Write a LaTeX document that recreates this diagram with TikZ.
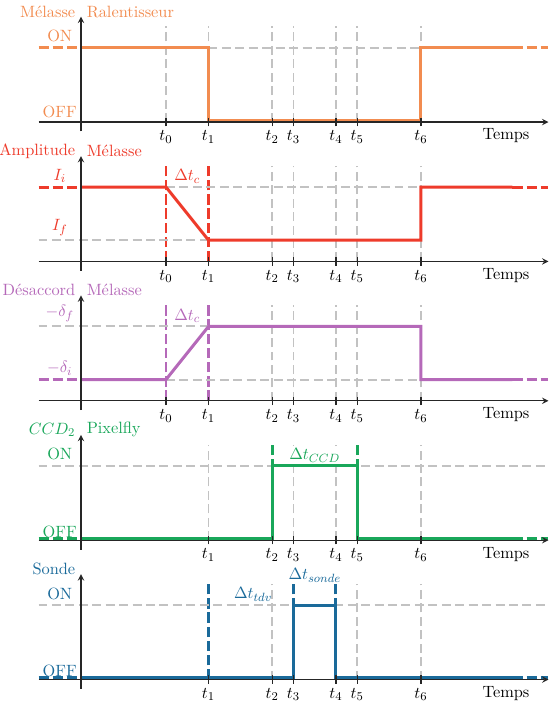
\documentclass[tikz,border=0pt,11pt]{standalone}
\usetikzlibrary{arrows.meta, positioning, calc}
\definecolor{naranja}{HTML}{F28C50}
\definecolor{rojo}{HTML}{EE3B2B}
\definecolor{violeta}{HTML}{B569B9}
\definecolor{verde}{HTML}{19A75A}
\definecolor{azul}{HTML}{1A6A9A}
\definecolor{gris}{HTML}{C2C2C2}

\begin{document}
\begin{tikzpicture}[
    eje/.style={->, >=stealth, line width=0.9pt, black!85},
    tic/.style={line width=0.9pt, black!85},
    guia/.style={gris, line width=1.3pt, dash pattern=on 6pt off 3pt},
    senal/.style={line width=2pt},
    punteado/.style={line width=2pt, dash pattern=on 7pt off 2.5pt}
  ]
  \useasboundingbox (-1.906,2.871) rectangle (11.106,-13.718);

  % Melasse Ralentisseur
  \begin{scope}[naranja]
    \foreach \x in {2,3,4.5,5,6,6.5,8}
      \draw[guia] (\x,0) -- (\x,2.25);
    \draw[guia] (3,1.75) -- (8,1.75);
    \draw[senal] (0,1.75) -- (3,1.75) -- (3,0.04) -- (8,0.04) -- (8,1.75) -- (10.15,1.75);
    \draw[punteado] (-1,1.75) -- (0,1.75);
    \draw[punteado] (10.15,1.75) -- (11,1.75);
    \node[left] (tit1) at (0,2.6) {Mélasse};
    \node[right] (tit1b) at (0,2.6) {Ralentisseur};
    \node[above] (on1) at (-0.5,1.75) {ON};
    \node[above] (off1) at (-0.5,-0.03) {OFF};
    \draw[eje] (-1,0) -- (11,0);
    \draw[eje] (0,-0.22) -- (0,2.48);
    \foreach \x/\n in {2/0,3/1,4.5/2,5/3,6/4,6.5/5,8/6} {
      \draw[tic] (\x,-0.1) -- (\x,0.1);
      \node[below, black] (a\n) at (\x,-0.07) {$t_{\n}$};
    }
    \node[black] (temps1) at (10,-0.33) {Temps};
  \end{scope}

  % Amplitude Melasse
  \begin{scope}[yshift=-3.28cm, rojo]
    \foreach \x in {4.5,5,6,6.5,8}
      \draw[guia] (\x,0) -- (\x,2.25);
    \foreach \x in {2,3}
      \draw[punteado] (\x,0) -- (\x,2.25);
    \draw[guia] (2,1.75) -- (8,1.75);
    \draw[guia] (-1,0.5) -- (3,0.5);
    \draw[senal] (0,1.75) -- (2,1.75) -- (3,0.5) -- (8,0.5) -- (8,1.75) -- (10.15,1.75);
    \draw[punteado] (-1,1.75) -- (0,1.75);
    \draw[punteado] (10.15,1.75) -- (11,1.75);
    \node[left] (tit2) at (0,2.6) {Amplitude};
    \node[right] (tit2b) at (0,2.6) {Mélasse};
    \node[above] (ii) at (-0.5,1.72) {$I_i$};
    \node[above] (if) at (-0.5,0.47) {$I_f$};
    \node (dtc2) at (2.5,2.0) {$\Delta t_c$};
    \draw[eje] (-1,0) -- (11,0);
    \draw[eje] (0,-0.22) -- (0,2.48);
    \foreach \x/\n in {2/0,3/1,4.5/2,5/3,6/4,6.5/5,8/6} {
      \draw[tic] (\x,-0.1) -- (\x,0.1);
      \node[below, black] (b\n) at (\x,-0.07) {$t_{\n}$};
    }
    \node[black] (temps2) at (10,-0.33) {Temps};
  \end{scope}

  % Desaccord Melasse
  \begin{scope}[yshift=-6.56cm, violeta]
    \foreach \x in {4.5,5,6,6.5,8}
      \draw[guia] (\x,0) -- (\x,2.25);
    \foreach \x in {2,3}
      \draw[punteado] (\x,0) -- (\x,2.25);
    \draw[guia] (-1,1.75) -- (3,1.75);
    \draw[guia] (2,0.5) -- (8,0.5);
    \draw[senal] (0,0.5) -- (2,0.5) -- (3,1.75) -- (8,1.75) -- (8,0.5) -- (10.15,0.5);
    \draw[punteado] (-1,0.5) -- (0,0.5);
    \draw[punteado] (10.15,0.5) -- (11,0.5);
    \node[left] (tit3) at (0,2.6) {Désaccord};
    \node[right] (tit3b) at (0,2.6) {Mélasse};
    \node[above] (df) at (-0.5,1.72) {$-\delta_f$};
    \node[above] (di) at (-0.5,0.47) {$-\delta_i$};
    \node (dtc3) at (2.5,2.0) {$\Delta t_c$};
    \draw[eje] (-1,0) -- (11,0);
    \draw[eje] (0,-0.22) -- (0,2.48);
    \foreach \x/\n in {2/0,3/1,4.5/2,5/3,6/4,6.5/5,8/6} {
      \draw[tic] (\x,-0.1) -- (\x,0.1);
      \node[below, black] (c\n) at (\x,-0.07) {$t_{\n}$};
    }
    \node[black] (temps3) at (10,-0.33) {Temps};
  \end{scope}

  % CCD2 Pixelfly
  \begin{scope}[yshift=-9.84cm, verde]
    \foreach \x in {3,5,6,8}
      \draw[guia] (\x,0) -- (\x,2.25);
    \foreach \x in {4.5,6.5}
      \draw[punteado] (\x,0) -- (\x,2.25);
    \draw[guia] (-1,1.75) -- (11,1.75);
    \node[above] (on4) at (-0.5,1.75) {ON};
    \node[above] (off4) at (-0.5,-0.08) {OFF};
    \draw[senal] (0,0.04) -- (4.5,0.04) -- (4.5,1.75) -- (6.5,1.75) -- (6.5,0.04) -- (10.15,0.04);
    \draw[punteado] (-1,0.04) -- (0,0.04);
    \draw[punteado] (10.15,0.04) -- (11,0.04);
    \node[left] (tit4) at (0,2.6) {$CCD_2$};
    \node[right] (tit4b) at (0,2.6) {Pixelfly};
    \node[fill=white, inner sep=1pt] (dtccd) at (5.5,2.0) {$\Delta t_{CCD}$};
    \draw[eje] (-1,0) -- (11,0);
    \draw[eje] (0,-0.22) -- (0,2.48);
    \foreach \x/\n in {3/1,4.5/2,5/3,6/4,6.5/5,8/6} {
      \draw[tic] (\x,-0.1) -- (\x,0.1);
      \node[below, black] (d\n) at (\x,-0.07) {$t_{\n}$};
    }
    \node[black] (temps4) at (10,-0.33) {Temps};
  \end{scope}

  % Sonde
  \begin{scope}[yshift=-13.12cm, azul]
    \foreach \x in {4.5,6.5,8}
      \draw[guia] (\x,0) -- (\x,2.25);
    \foreach \x in {3,5,6}
      \draw[punteado] (\x,0) -- (\x,2.25);
    \draw[guia] (-1,1.75) -- (11,1.75);
    \node[above] (on5) at (-0.5,1.75) {ON};
    \node[above] (off5) at (-0.5,-0.08) {OFF};
    \draw[senal] (0,0.04) -- (5,0.04) -- (5,1.75) -- (6,1.75) -- (6,0.04) -- (10.15,0.04);
    \draw[punteado] (-1,0.04) -- (0,0.04);
    \draw[punteado] (10.15,0.04) -- (11,0.04);
    \node[left] (tit5) at (0,2.6) {Sonde};
    \node (dttdv) at (4.05,2.0) {$\Delta t_{tdv}$};
    \node (dtsonde) at (5.5,2.45) {$\Delta t_{sonde}$};
    \draw[eje] (-1,0) -- (11,0);
    \draw[eje] (0,-0.22) -- (0,2.48);
    \foreach \x/\n in {3/1,4.5/2,5/3,6/4,6.5/5,8/6} {
      \draw[tic] (\x,-0.1) -- (\x,0.1);
      \node[below, black] (e\n) at (\x,-0.07) {$t_{\n}$};
    }
    \node[black] (temps5) at (10,-0.33) {Temps};
  \end{scope}
\end{tikzpicture}
\end{document}
